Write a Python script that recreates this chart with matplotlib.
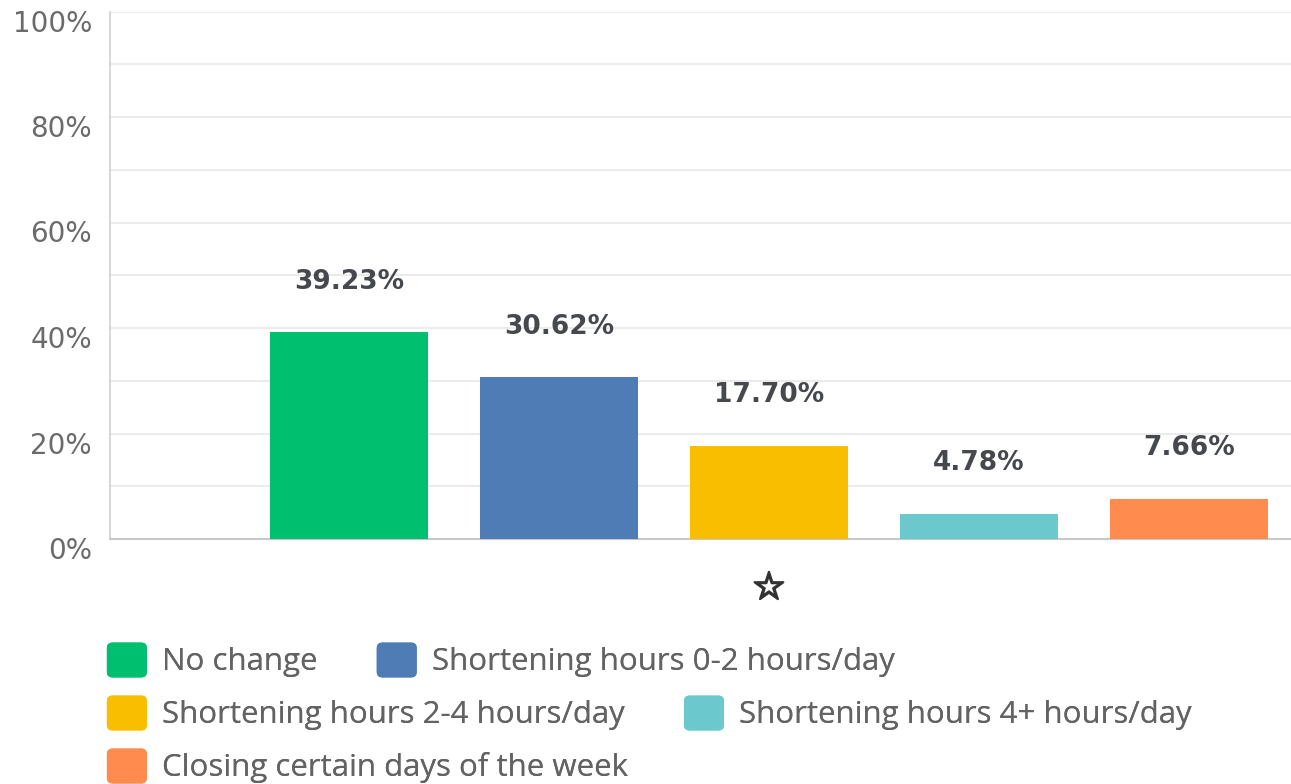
import matplotlib
matplotlib.use("Agg")
import matplotlib.pyplot as plt
from matplotlib.transforms import ScaledTranslation
from matplotlib.patches import FancyBboxPatch, Patch
from matplotlib.legend_handler import HandlerPatch
import matplotlib.patheffects as pe
import numpy as np

categories = ["☆"]
series_names = ["No change", "Shortening hours 0-2 hours/day",
                "Shortening hours 2-4 hours/day", "Shortening hours 4+ hours/day",
                "Closing certain days of the week"]
values = [39.23, 30.62, 17.70, 4.78, 7.66]
colors = ["#00bf6f", "#507cb6", "#f9be00", "#6bc8cd", "#ff8b4f"]
yticks = [0, 20, 40, 60, 80, 100]
ytick_labels = ["0%", "20%", "40%", "60%", "80%", "100%"]


class RoundHandler(HandlerPatch):
    def create_artists(self, legend, orig_handle, xdescent, ydescent,
                       width, height, fontsize, trans):
        p = FancyBboxPatch((-xdescent, -ydescent), width, height,
                           boxstyle="round,pad=0,rounding_size=4",
                           facecolor=orig_handle.get_facecolor(),
                           edgecolor="none", transform=trans)
        return [p]


W, H = 1291, 784
fig = plt.figure(figsize=(W / 100, H / 100), dpi=100)
ax = fig.add_axes([110 / W, 1 - 539 / H, 1 - 110 / W, (539 - 11.5) / H])

x = np.arange(len(categories))
width = 0.75
n = len(series_names)
handles = []
for i, (name, v, c) in enumerate(zip(series_names, values, colors)):
    off = (i - (n - 1) / 2) * 1.0
    b = ax.bar(x + off, [v], width=width, color=c, label=name, zorder=3)
    handles.append(Patch(facecolor=c, label=name))
    ax.bar_label(b, labels=[f"{v:.2f}%"], padding=27, fontsize=19,
                 fontweight="bold", color="#45484d", family="DejaVu Sans")

ax.set_xlim(-3.138, 2.486)
ax.set_ylim(0, 100)
ax.set_yticks(np.arange(0, 101, 10))
ax.yaxis.grid(True, color="#e8e8e8", linewidth=1.2, zorder=0)
ax.set_yticklabels([])
ax.tick_params(axis="y", length=0)
ax.set_xticks(x)
ax.set_xticklabels(categories, fontsize=27, color="#333333", family="DejaVu Sans")
for lab in ax.get_xticklabels():
    lab.set_path_effects([pe.withStroke(linewidth=1.6, foreground="#333333")])
ax.tick_params(axis="x", length=0, pad=23)

off_tr = ScaledTranslation(-18 / 100, -12 / 100, fig.dpi_scale_trans)
for t, lab in zip(yticks, ytick_labels):
    ax.text(0, t, lab, transform=ax.get_yaxis_transform() + off_tr,
            ha="right", va="center", fontsize=20, color="#6b6b6b", family="DejaVu Sans")

for s in ["top", "right"]:
    ax.spines[s].set_visible(False)
ax.spines["left"].set_color("#d0d0d0")
ax.spines["bottom"].set_color("#c8c8c8")
ax.spines["left"].set_linewidth(1.2)
ax.spines["bottom"].set_linewidth(1.5)

rows = [[0, 1], [2, 3], [4]]
row_y = [660, 713, 766]
for r, yy in zip(rows, row_y):
    leg = fig.legend([handles[i] for i in r], [series_names[i] for i in r],
                     loc="center left", bbox_to_anchor=(85 / W, 1 - yy / H),
                     ncol=len(r), frameon=False,
                     prop={"family": "Open Sans", "size": 22.5},
                     handlelength=1.28, handleheight=1.34, handletextpad=0.48,
                     columnspacing=1.9, borderpad=0.2,
                     handler_map={Patch: RoundHandler()})
    for t in leg.get_texts():
        t.set_color("#636363")
    fig.add_artist(leg)

fig.savefig("out.png", dpi=100, facecolor="white")
